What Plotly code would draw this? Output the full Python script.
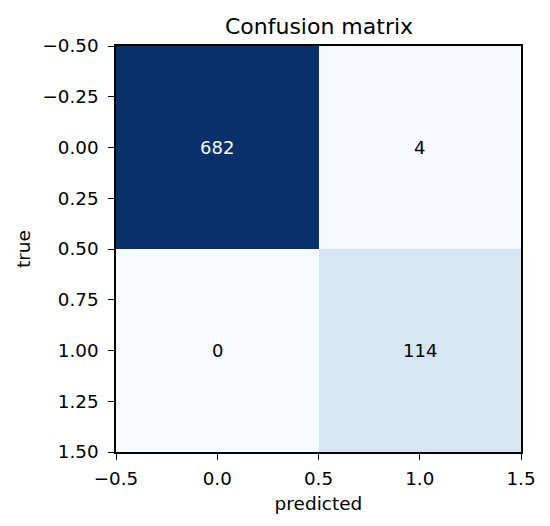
import plotly.graph_objects as go

# confusion matrix counts, rows = true, cols = predicted
true_labels = [0, 1]
pred_labels = [0, 1]
counts = [
    [682, 4],
    [0, 114],
]

x_ticks = [-0.5, 0.0, 0.5, 1.0, 1.5]
y_ticks = [-0.5, -0.25, 0.0, 0.25, 0.5, 0.75, 1.0, 1.25, 1.5]

# matplotlib "Blues"
blues = [
    [0.000, "#f7fbff"],
    [0.125, "#deebf7"],
    [0.250, "#c6dbef"],
    [0.375, "#9ecae1"],
    [0.500, "#6baed6"],
    [0.625, "#4292c6"],
    [0.750, "#2171b5"],
    [0.875, "#08519c"],
    [1.000, "#08306b"],
]

font_family = "DejaVu Sans"
vmax = max(max(r) for r in counts)

# page body has an 8px margin, so the figure is sized to fit inside it
W, H = 542, 518

fig = go.Figure()
fig.add_trace(go.Heatmap(
    z=counts,
    x=pred_labels,
    y=true_labels,
    colorscale=blues,
    zmin=0,
    zmax=vmax,
    showscale=False,
    hoverinfo="skip",
))

# cell labels, white on dark cells like matplotlib does
for i, row in enumerate(counts):
    for j, v in enumerate(row):
        fig.add_annotation(
            x=pred_labels[j], y=true_labels[i], text=str(v),
            showarrow=False,
            font=dict(family=font_family, size=18,
                      color="#f7fbff" if v > vmax / 2 else "black"),
        )

axis_style = dict(
    ticks="outside", ticklen=6, tickwidth=1.3, tickcolor="black",
    showline=True, linecolor="black", linewidth=1.5, mirror=True,
    showgrid=False, zeroline=False,
    tickfont=dict(size=18.3),
)

fig.update_layout(
    width=W, height=H,
    margin=dict(l=108, r=29, t=38, b=74),
    paper_bgcolor="white",
    plot_bgcolor="white",
    font=dict(family=font_family, size=17, color="black"),
    title=dict(text="Confusion matrix", x=(319 - 8) / W, xanchor="center",
               y=1 - 18 / H, yanchor="middle",
               font=dict(size=22)),
)
fig.update_xaxes(
    range=[-0.5, 1.5],
    tickvals=x_ticks,
    ticktext=[f"{t:.1f}".replace("-", "\u2212") for t in x_ticks],
    ticklabelstandoff=3,
    title=dict(text="predicted", standoff=9, font=dict(size=18.5)),
    **axis_style,
)
fig.update_yaxes(
    range=[1.5, -0.5],
    tickvals=y_ticks,
    ticktext=[f"{t:.2f}".replace("-", "\u2212") for t in y_ticks],
    ticklabelstandoff=6,
    title=dict(text="true", standoff=7, font=dict(size=18.5)),
    **axis_style,
)

fig.write_html("out.html")
